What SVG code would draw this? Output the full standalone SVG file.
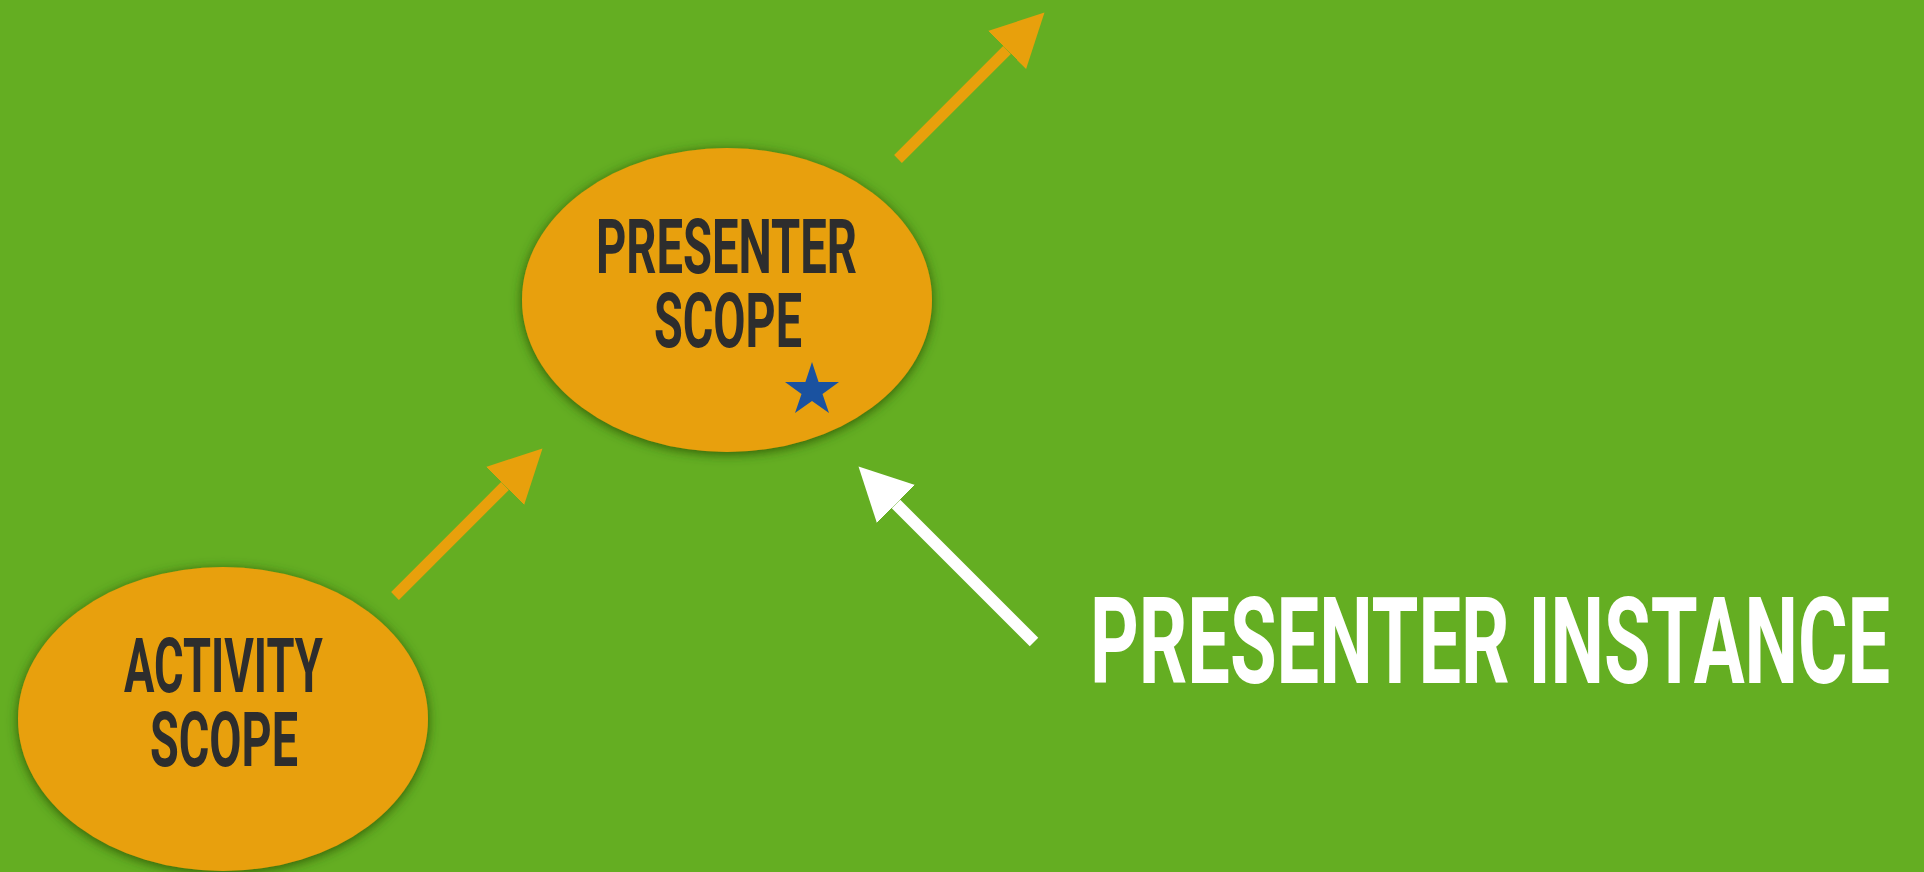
<svg xmlns="http://www.w3.org/2000/svg" width="1924" height="872" viewBox="0 0 1924 872">
<style>
.bg{fill:#64ae22}
.scope{fill:#e8a00c}
.lbl{font-family:Roboto,"Liberation Sans",sans-serif;font-weight:bold;font-size:76px;fill:#2d2d2d}
.big{font-family:Roboto,"Liberation Sans",sans-serif;font-weight:bold;font-size:120px;fill:#ffffff}
.oline{stroke:#e8a00c;stroke-width:11;fill:none}
.wline{stroke:#ffffff;stroke-width:12;fill:none}
</style>
<defs>
<filter id="sh" x="-20%" y="-20%" width="140%" height="140%">
<feDropShadow dx="0" dy="2" stdDeviation="6" flood-color="#284f02" flood-opacity="0.9"/>
</filter>
<marker id="ho" markerUnits="userSpaceOnUse" markerWidth="60" markerHeight="60" viewBox="0 -30 60 60" refX="0" refY="0" orient="auto">
<path d="M0,-27 L53,0 L0,27 Z" fill="#e8a00c"/>
</marker>
<marker id="hw" markerUnits="userSpaceOnUse" markerWidth="60" markerHeight="60" viewBox="0 -30 60 60" refX="0" refY="0" orient="auto">
<path d="M0,-27 L53,0 L0,27 Z" fill="#ffffff"/>
</marker>
</defs>
<rect class="bg" x="0" y="0" width="1924" height="872"/>
<g id="connectors">
<line class="oline" x1="395" y1="596" x2="505" y2="486" marker-end="url(#ho)"/>
<line class="oline" x1="898" y1="159" x2="1007" y2="50" marker-end="url(#ho)"/>
<line class="wline" x1="1034" y1="642" x2="896" y2="504" marker-end="url(#hw)"/>
</g>
<g id="presenter-scope">
<ellipse class="scope" cx="727" cy="300" rx="205" ry="152" filter="url(#sh)"/>
<text class="lbl" transform="translate(596,273) scale(0.65,1)" x="0" y="0" textLength="401.5" lengthAdjust="spacingAndGlyphs">PRESENTER</text>
<text class="lbl" transform="translate(654,347) scale(0.65,1)" x="0" y="0" textLength="227.7" lengthAdjust="spacingAndGlyphs">SCOPE</text>
<polygon fill="#1a52a0" points="812,362 818.6,382 839,382 822.5,394 829,413 812,401 795,413 801.5,394 785,382 805.4,382"/>
</g>
<g id="activity-scope">
<ellipse class="scope" cx="223" cy="719" rx="205" ry="152" filter="url(#sh)"/>
<text class="lbl" transform="translate(124,692) scale(0.65,1)" x="0" y="0" textLength="306" lengthAdjust="spacingAndGlyphs">ACTIVITY</text>
<text class="lbl" transform="translate(150,766) scale(0.65,1)" x="0" y="0" textLength="227.7" lengthAdjust="spacingAndGlyphs">SCOPE</text>
</g>
<g id="presenter-instance">
<text class="big" transform="translate(1090,683) scale(0.65,1)" x="0" y="0" textLength="1231" lengthAdjust="spacingAndGlyphs">PRESENTER INSTANCE</text>
</g>
</svg>
